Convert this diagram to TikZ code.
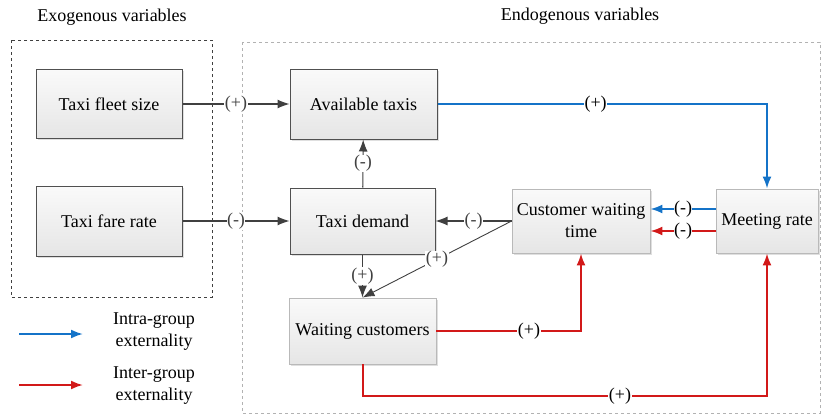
\documentclass[tikz,border=0pt]{standalone}
\usepackage{fontspec}
\setmainfont{Liberation Serif}
\usepackage{tikz}
\usetikzlibrary{arrows.meta,shadows}

\definecolor{darkline}{RGB}{64,64,64}
\definecolor{boxline}{RGB}{80,80,80}
\definecolor{intrablue}{RGB}{20,115,200}
\definecolor{interred}{RGB}{210,25,25}

\begin{document}
\begin{tikzpicture}[x=1pt,y=1pt,yscale=-1,
  font=\fontsize{18}{22}\selectfont,
  varbox/.style={draw=boxline,line width=1pt,top color=gray!4,bottom color=gray!20,
    drop shadow={opacity=0.25,shadow xshift=1.5pt,shadow yshift=-1.5pt},align=center},
  lightbox/.style={varbox,draw=gray!55,line width=0.8pt},
  sign/.style={fill=white,inner sep=0.5pt},
  link/.style={darkline,line width=1.1pt,-{Latex[length=12pt,width=9pt]}},
  intra/.style={link,intrablue,line width=2pt},
  inter/.style={link,interred,line width=2pt}]
  \useasboundingbox (0,0) rectangle (822,415);

  %Group frames
  \draw[darkline,dashed,line width=0.9pt] (11,40) rectangle (212,297);
  \draw[gray!60,dashed,line width=0.8pt] (242,42) rectangle (820,413);
  \node (exotitle) at (112,17) {Exogenous variables};
  \node (endotitle) at (580,16) {Endogenous variables};

  %Exogenous boxes
  \node[varbox,minimum width=146pt,minimum height=69pt] (fleet) at (109,104) {Taxi fleet size};
  \node[varbox,minimum width=146pt,minimum height=70pt] (fare) at (109,221) {Taxi fare rate};

  %Endogenous boxes
  \node[varbox,minimum width=147pt,minimum height=70pt] (avail) at (363.5,104) {Available taxis};
  \node[varbox,minimum width=145pt,minimum height=66pt] (demand) at (362.5,221) {Taxi demand};
  \node[lightbox,minimum width=138pt,minimum height=64pt] (cwt) at (581,221) {Customer waiting\\time};
  \node[lightbox,minimum width=102pt,minimum height=64pt] (meet) at (767,221) {Meeting rate};
  \node[lightbox,minimum width=147pt,minimum height=66pt] (waitc) at (362.5,331) {Waiting customers};

  %Black links
  \draw[link] (fleet) -- node[sign] {(+)} (avail);
  \draw[link] (fare) -- node[sign] {(-)} (demand);
  \draw[link] (demand) -- node[sign] {(-)} (avail);
  \draw[link] (cwt.west) -- node[sign] {(-)} (demand.east);
  \draw[link] (demand) -- node[sign] {(+)} (waitc);
  \draw[link,line width=0.9pt] (cwt.west) -- node[sign] {(+)} (waitc.north);

  %Blue links
  \draw[intra] (avail.east) -| (meet.north);
  \draw[intra] ([yshift=-12pt]meet.west) -- ([yshift=-12pt]cwt.east);

  %Red links
  \draw[inter] ([yshift=10pt]meet.west) -- ([yshift=10pt]cwt.east);
  \draw[inter] (waitc.east) -| (cwt.south);
  \coordinate (bottom) at (620,396);
  \draw[inter] (waitc.south) |- (bottom) -| (meet.south);

  %Signs on coloured links
  \path (avail.east) -| node[sign,pos=0.24] {(+)} (meet.north);
  \path ([yshift=-12pt]meet.west) -- node[sign] {(-)} ([yshift=-12pt]cwt.east);
  \path ([yshift=10pt]meet.west) -- node[sign] {(-)} ([yshift=10pt]cwt.east);
  \path (waitc.east) -| node[sign,pos=0.32] {(+)} (cwt.south);
  \node[sign] at (bottom) {(+)};

  %Legend
  \coordinate (bluestart) at (19,334);
  \coordinate (blueend) at (83,334);
  \coordinate (redstart) at (19,385);
  \coordinate (redend) at (83,385);
  \draw[intra] (bluestart) -- (blueend);
  \draw[inter] (redstart) -- (redend);
  \node[align=center] (intratext) at (154,332) {Intra-group\\externality};
  \node[align=center] (intertext) at (154,386) {Inter-group\\externality};
\end{tikzpicture}
\end{document}
